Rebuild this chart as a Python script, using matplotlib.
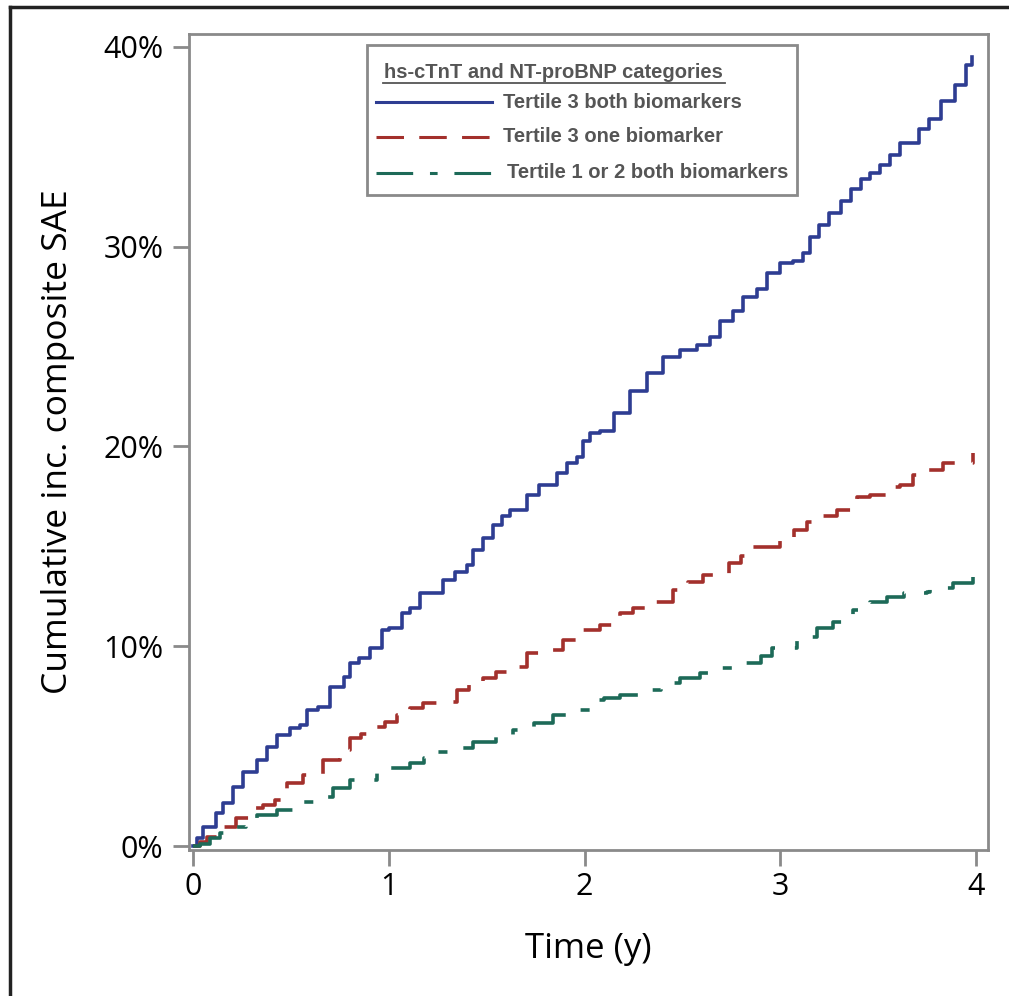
import matplotlib
matplotlib.use("Agg")
import matplotlib.pyplot as plt
from matplotlib.lines import Line2D
from matplotlib.patches import Rectangle
import numpy as np

# cumulative incidence (%), time in years
t_blue = [0, 0.02, 0.05, 0.12, 0.155, 0.205, 0.255, 0.325, 0.38, 0.43, 0.495, 0.545, 0.58, 0.64,
          0.70, 0.77, 0.80, 0.85, 0.905, 0.965, 1.0, 1.07, 1.11, 1.16, 1.225, 1.275, 1.34, 1.40,
          1.43, 1.48, 1.53, 1.58, 1.62, 1.705, 1.77, 1.86, 1.91, 1.96, 1.99, 2.03, 2.08, 2.15,
          2.23, 2.32, 2.40, 2.49, 2.575, 2.64, 2.69, 2.76, 2.81, 2.88, 2.93, 2.998, 3.065,
          3.115, 3.15, 3.20, 3.25, 3.31, 3.36, 3.41, 3.46, 3.51, 3.56, 3.61, 3.66, 3.71, 3.76,
          3.82, 3.89, 3.95, 3.98]
ci_blue = [0, 0.4, 0.95, 1.65, 2.15, 2.95, 3.7, 4.3, 4.95, 5.55, 5.9, 6.05, 6.8, 6.95,
           7.95, 8.45, 9.15, 9.4, 9.9, 10.8, 10.9, 11.65, 11.9, 12.65, 12.65, 13.3, 13.7, 14.05,
           14.8, 15.4, 16.05, 16.5, 16.8, 17.55, 18.05, 18.65, 19.15, 19.45, 20.3, 20.7, 20.8, 21.7,
           22.8, 23.7, 24.5, 24.85, 25.1, 25.5, 26.3, 26.8, 27.5, 27.9, 28.7, 29.2, 29.3,
           29.7, 30.5, 31.1, 31.7, 32.3, 32.9, 33.4, 33.7, 34.1, 34.6, 35.2, 35.2, 35.9, 36.4,
           37.3, 38.1, 39.1, 39.5]

t_red = [0, 0.036, 0.07, 0.155, 0.22, 0.29, 0.36, 0.42, 0.48, 0.56, 0.665, 0.75, 0.80, 0.86,
         0.92, 0.98, 1.04, 1.11, 1.175, 1.245, 1.35, 1.41, 1.48, 1.55, 1.62, 1.705, 1.79, 1.89,
         1.98, 2.08, 2.18, 2.25, 2.32, 2.45, 2.53, 2.605, 2.74, 2.80, 2.86, 2.998, 3.07, 3.135,
         3.21, 3.29, 3.39, 3.46, 3.545, 3.61, 3.68, 3.75, 3.83, 3.92, 3.985]
ci_red = [0, 0.2, 0.45, 0.95, 1.4, 1.9, 2.05, 2.3, 3.15, 3.55, 4.3, 4.8, 5.4, 5.6,
          5.95, 6.2, 6.55, 6.9, 7.15, 7.2, 7.8, 8.1, 8.4, 8.7, 8.95, 9.65, 9.8, 10.3,
          10.8, 11.05, 11.65, 11.9, 12.2, 12.8, 13.2, 13.55, 14.15, 14.5, 14.95, 15.4, 15.8, 16.2,
          16.5, 16.8, 17.45, 17.55, 17.95, 18.05, 18.55, 18.8, 19.15, 19.15, 19.65]

t_green = [0, 0.036, 0.087, 0.14, 0.205, 0.27, 0.325, 0.43, 0.53, 0.635, 0.715, 0.80, 0.94,
           1.005, 1.11, 1.18, 1.245, 1.33, 1.43, 1.55, 1.635, 1.74, 1.84, 1.925, 2.03, 2.10,
           2.18, 2.28, 2.39, 2.49, 2.59, 2.69, 2.79, 2.9, 2.96, 3.085, 3.19, 3.27, 3.37, 3.46,
           3.545, 3.63, 3.75, 3.765, 3.82, 3.88, 3.985]
ci_green = [0, 0.1, 0.4, 0.65, 0.95, 1.25, 1.55, 1.8, 2.2, 2.45, 2.9, 3.3, 3.65,
            3.9, 4.15, 4.4, 4.7, 4.9, 5.2, 5.55, 5.8, 6.15, 6.55, 6.8, 7.3, 7.4,
            7.55, 7.8, 8.15, 8.4, 8.65, 8.9, 9.15, 9.5, 9.9, 10.45, 10.9, 11.2, 11.8, 12.2,
            12.45, 12.65, 12.7, 12.9, 12.9, 13.15, 13.45]

labels = ["Tertile 3 both biomarkers", "Tertile 3 one biomarker", "Tertile 1 or 2 both biomarkers"]
colors = ["#2e3d92", "#a3302c", "#1d6a58"]
styles = ["-", (0, (9, 5)), (0, (12, 5.5, 2.5, 5.5))]

W, H = 1009, 996
fig = plt.figure(figsize=(W / 100, H / 100), dpi=100)
ax = fig.add_axes([189 / W, 1 - 850 / H, (988 - 189) / W, (850 - 34) / H])

series = [(t_blue, ci_blue), (t_red, ci_red), (t_green, ci_green)]
for (t, ci), c, ls in zip(series, colors, styles):
    ax.plot(t, ci, drawstyle="steps-post", color=c, lw=2.6, ls=ls)

ax.set_xlim(-0.0204, 4.061)
ax.set_ylim(-0.2, 40.65)
ax.set_xticks([0, 1, 2, 3, 4])
ax.set_yticks([0, 10, 20, 30, 40])
ax.set_yticklabels([f"{v}%" for v in [0, 10, 20, 30, 40]])

grey = "#8a8a8a"
for s in ax.spines.values():
    s.set_color(grey)
    s.set_linewidth(2)
ax.tick_params(direction="out", length=11.5, width=2, color=grey, labelsize=22,
               labelcolor="black")
ax.tick_params(axis="x", pad=4)
ax.tick_params(axis="y", pad=7)
for lab in ax.get_xticklabels() + ax.get_yticklabels():
    lab.set_family("Open Sans")

ax.set_xlabel("Time (y)", fontsize=25, family="Open Sans", labelpad=22)
ax.set_ylabel("Cumulative inc. composite SAE", fontsize=25.5, family="Open Sans", labelpad=20)


def fx(px):
    return px / W


def fy(py):
    return 1 - py / H


# legend box drawn by hand (title is underlined)
fig.add_artist(Rectangle((fx(367), fy(195)), fx(797) - fx(367), fy(45) - fy(195),
                         transform=fig.transFigure, fill=False, ec=grey, lw=2))
fig.text(fx(384), fy(72), "hs-cTnT and NT-proBNP categories", fontsize=14.5,
         weight="bold", color="#555555", family="Liberation Sans", va="center")
fig.add_artist(Line2D([fx(383), fx(725)], [fy(83), fy(83)], color="#555555", lw=1.3))
rows = [102, 137, 173]
text_x = [503, 503, 507]
for y, lab, c, ls, tx in zip(rows, labels, colors, styles, text_x):
    fig.add_artist(Line2D([fx(376), fx(492)], [fy(y), fy(y)], color=c, lw=2.2, ls=ls))
    fig.text(fx(tx), fy(y), lab, fontsize=14.5, weight="bold", color="#555555",
             family="Liberation Sans", va="center")

# outer frame (only left and top edges are visible)
fig.add_artist(Line2D([fx(10), fx(10)], [0, fy(7)], color="#222222", lw=2.5))
fig.add_artist(Line2D([fx(10), 1], [fy(7), fy(7)], color="#222222", lw=2.5))

plt.savefig("out.png", dpi=100)
